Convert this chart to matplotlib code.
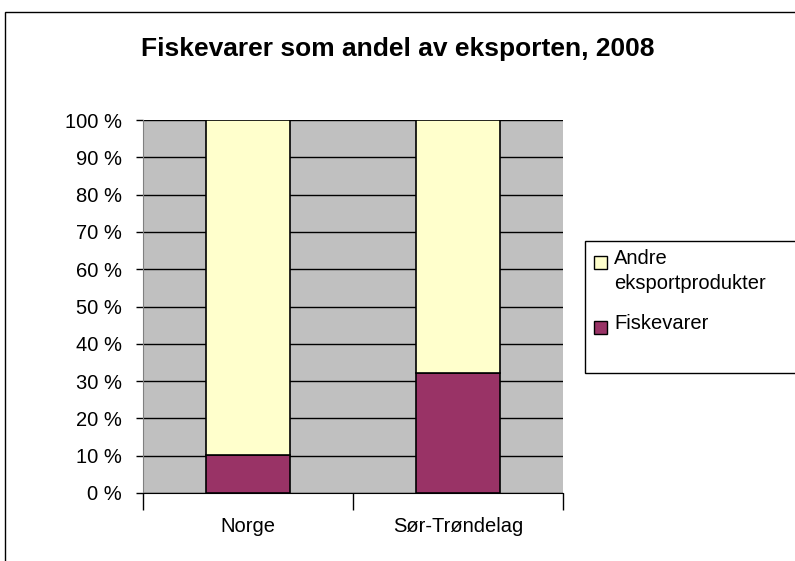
import matplotlib.pyplot as plt
import matplotlib.patches as patches
from matplotlib.ticker import FixedLocator, NullFormatter

plt.rcParams['font.family'] = ['Liberation Sans', 'DejaVu Sans']

# Data (percent of exports)
regions = ['Norge', 'Sør-Trøndelag']
fisk = [10.3, 32.2]
andre = [89.7, 67.8]
yticks = list(range(0, 101, 10))
ytick_labels = [f'{v} %' for v in yticks]
legend_labels = ['Andre\neksportprodukter', 'Fiskevarer']
legend_colors = ['#FFFFCC', '#993366']

fig = plt.figure(figsize=(7.95, 5.61), dpi=100)
W, H = 795, 561

# outer chart frame (cut off at right/bottom like the source)
frame = patches.Rectangle((5 / W, -0.1), 1.2, 1 - 12 / H + 0.1,
                          transform=fig.transFigure, fill=False,
                          edgecolor='black', linewidth=1.0, clip_on=False)
fig.patches.append(frame)

ax = fig.add_axes([143 / W, 1 - 493 / H, 420 / W, 373 / H])
ax.set_facecolor('#C0C0C0')

x = range(len(regions))
ax.bar(x, fisk, width=0.40, color=legend_colors[1], edgecolor='black',
       linewidth=1.2, zorder=3)
ax.bar(x, andre, width=0.40, bottom=fisk, color=legend_colors[0],
       edgecolor='black', linewidth=1.2, zorder=3)

ax.set_xlim(-0.5, 1.5)
ax.set_ylim(0, 100)
ax.set_yticks(yticks)
ax.set_yticklabels(ytick_labels, fontsize=14.5)
ax.yaxis.grid(True, color='black', linewidth=1.0, zorder=1)
ax.set_axisbelow(True)

ax.xaxis.set_major_locator(FixedLocator([-0.5, 0.5, 1.5]))
ax.xaxis.set_major_formatter(NullFormatter())
ax.tick_params(axis='x', length=12, width=1.0, color='black')
ax.tick_params(axis='y', length=5, width=1.0, color='black', pad=10)
for i, name in enumerate(regions):
    ax.text(i, -9.0, name, ha='center', va='center', fontsize=14.5)

for side in ['top', 'right']:
    ax.spines[side].set_visible(False)
ax.spines['left'].set_color('#808080')
ax.spines['bottom'].set_color('black')

fig.text(398 / W, 1 - 49 / H, 'Fiskevarer som andel av eksporten, 2008',
         ha='center', va='center', fontsize=19, fontweight='bold')

# legend box
lbox = patches.Rectangle((585 / W, 1 - 373 / H), 220 / W, 132 / H,
                         transform=fig.transFigure, fill=True,
                         facecolor='white', edgecolor='black',
                         linewidth=1.0, clip_on=False)
fig.patches.append(lbox)
sq = 13
for lab, col, yc in zip(legend_labels, legend_colors, [262, 327]):
    fig.patches.append(patches.Rectangle(
        (594 / W, 1 - (yc + sq / 2) / H), sq / W, sq / H,
        transform=fig.transFigure, facecolor=col, edgecolor='black',
        linewidth=1.0))
    fig.text(614 / W, 1 - (yc - 13) / H, lab, ha='left', va='top',
             fontsize=14.5, linespacing=1.4)

fig.savefig('out.png', dpi=100, facecolor='white')
